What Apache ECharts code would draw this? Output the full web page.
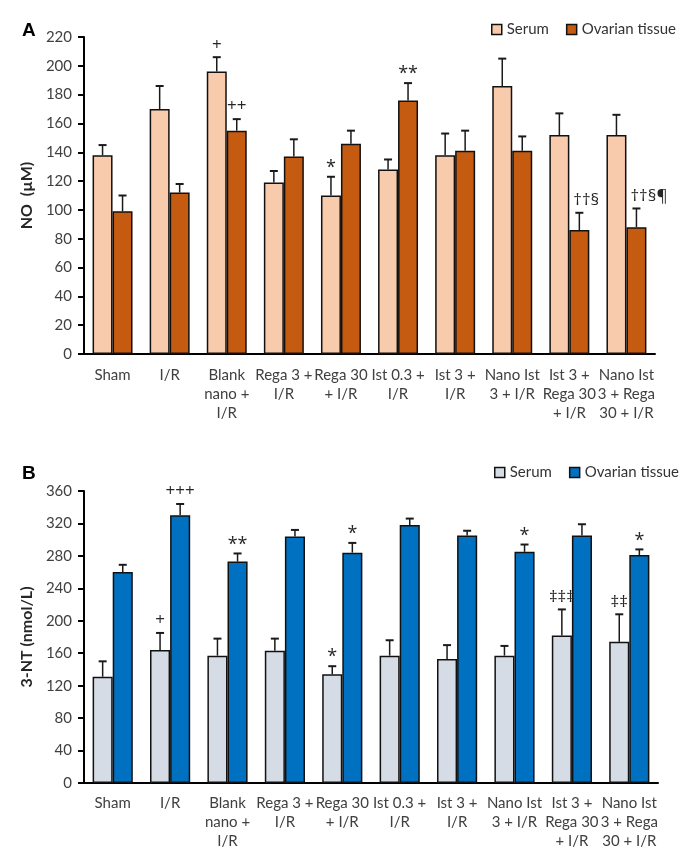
<html lang="en">
<head>
    <meta charset="UTF-8">
    <title>NO and 3-NT</title>
    <script src="https://cdn.jsdelivr.net/npm/echarts@6/dist/echarts.min.js"></script>
</head>
<style>
    html, body { margin: 0; padding: 0; background: #fff; }
    #container { width: 690px; height: 866px; }
</style>
<body>
<div id="container"></div>
<script>
    // categories (x axis, same for both panels)
    var categories = ['Sham', 'I/R', 'Blank\nnano +\nI/R', 'Rega 3 +\nI/R', 'Rega 30\n+ I/R',
        'Ist 0.3 +\nI/R', 'Ist 3 +\nI/R', 'Nano Ist\n3 + I/R', 'Ist 3 +\nRega 30\n+ I/R', 'Nano Ist\n3 + Rega\n30 + I/R'];

    // panel A: NO (µM)
    var noSerum = [138, 170, 196, 119, 110, 128, 138, 186, 152, 152];
    var noSerumErr = [145, 186, 206, 127, 123, 135, 153, 205, 167, 166];
    var noTissue = [99, 112, 155, 137, 146, 176, 141, 141, 86, 88];
    var noTissueErr = [110, 118, 163, 149, 155, 188, 155, 151, 98, 101];
    var noSerumMark = ['', '', '+', '', '*', '', '', '', '', ''];
    var noTissueMark = ['', '', '++', '', '', '**', '', '', '††§', '††§¶'];

    // panel B: 3-NT (nmol/L)
    var ntSerum = [131, 164, 157, 163, 134, 157, 153, 157, 182, 174];
    var ntSerumErr = [150, 185, 178, 178, 144, 176, 170, 169, 214, 208];
    var ntTissue = [260, 330, 273, 304, 284, 318, 305, 285, 305, 281];
    var ntTissueErr = [269, 344, 283, 312, 296, 326, 311, 294, 319, 288];
    var ntSerumMark = ['', '+', '', '', '*', '', '', '', '‡‡‡', '‡‡'];
    var ntTissueMark = ['', '+++', '**', '', '*', '', '', '*', '', '*'];

    var font = 'Lato, "Open Sans", sans-serif';

    var chart = echarts.init(document.getElementById('container'));

    // error bar (upward only) + significance mark
    function errorBars(side, marks, markAlign) {
        return function (params, api) {
            var i = api.value(0);
            var base = api.coord([i, api.value(1)]);
            var top = api.coord([i, api.value(2)]);
            var catW = api.size([1, 0])[0];
            var x = base[0] + side * catW * 0.7 / 4;
            var children = [
                {type: 'line', shape: {x1: x, y1: base[1], x2: x, y2: top[1]},
                    style: {stroke: '#1a1a1a', lineWidth: 1.5}},
                {type: 'line', shape: {x1: x - 4, y1: top[1], x2: x + 4, y2: top[1]},
                    style: {stroke: '#1a1a1a', lineWidth: 2}}
            ];
            var m = marks[i];
            if (m) {
                var left = markAlign && m.length > 2;
                var star = m.charAt(0) === '*';
                children.push({
                    type: 'text',
                    style: {
                        text: m,
                        x: left ? x - 6 : x,
                        y: top[1] - (star ? 0 : 4),
                        align: left ? 'left' : 'center',
                        verticalAlign: 'bottom',
                        font: (star ? '18px ' : '17px ') + '"Open Sans", sans-serif',
                        fill: '#262626'
                    }
                });
            }
            return {type: 'group', children: children};
        };
    }

    function errData(vals, errs) {
        var d = [];
        for (var i = 0; i < vals.length; i++) d.push([i, vals[i], errs[i]]);
        return d;
    }

    function xAxisFor(gridIndex, margin) {
        return {
            type: 'category', gridIndex: gridIndex, data: categories,
            axisLine: {lineStyle: {color: '#000', width: 2}},
            axisTick: {length: 6, lineStyle: {color: '#000', width: 2}},
            axisLabel: {interval: 0, margin: margin, color: '#404040', fontFamily: font, fontSize: 15, lineHeight: 19}
        };
    }

    function yAxisFor(gridIndex, name, max, interval) {
        return {
            type: 'value', gridIndex: gridIndex, min: 0, max: max, interval: interval,
            name: name, nameLocation: 'middle', nameGap: 47,
            nameTextStyle: {fontFamily: font, fontSize: 16, fontWeight: 'bold', color: '#262626'},
            splitLine: {show: false},
            axisLine: {show: true, lineStyle: {color: '#000', width: 2}},
            axisTick: {show: true, length: 6, lineStyle: {color: '#000', width: 2}},
            axisLabel: {margin: 12, color: '#404040', fontFamily: font, fontSize: 15}
        };
    }

    function barStyle(color) {
        return {color: color, borderColor: '#111', borderWidth: 1.5};
    }

    var option = {
        animation: false,
        textStyle: {fontFamily: font},
        grid: [
            {left: 84, top: 37, width: 571, height: 317},
            {left: 84, top: 491, width: 574, height: 292}
        ],
        legend: [
            {
                left: 486, top: 17, width: 200, itemWidth: 10, itemHeight: 10, itemGap: 17, selectedMode: false,
                textStyle: {fontFamily: font, fontSize: 15, color: '#333'},
                data: [
                    {name: 'Serum', icon: 'rect', itemStyle: barStyle('#F8CBAD')},
                    {name: 'Ovarian tissue', icon: 'rect', itemStyle: barStyle('#C55A11')}
                ]
            },
            {
                left: 489, top: 460, width: 200, itemWidth: 10, itemHeight: 10, itemGap: 17, selectedMode: false,
                textStyle: {fontFamily: font, fontSize: 15, color: '#333'},
                data: [
                    {name: 'Serum', icon: 'rect', itemStyle: barStyle('#D6DCE5')},
                    {name: 'Ovarian tissue', icon: 'rect', itemStyle: barStyle('#0070C0')}
                ]
            }
        ],
        xAxis: [xAxisFor(0, 12), xAxisFor(1, 11)],
        yAxis: [yAxisFor(0, 'NO  (µM)', 220, 20), yAxisFor(1, '3-NT (nmol/L)', 360, 40)],
        graphic: [
            {type: 'text', left: 22, top: 21, style: {text: 'A', font: 'bold 19px Arial, "Liberation Sans", sans-serif', fill: '#000'}},
            {type: 'text', left: 22, top: 464, style: {text: 'B', font: 'bold 19px Arial, "Liberation Sans", sans-serif', fill: '#000'}}
        ],
        series: [
            {name: 'Serum', type: 'bar', xAxisIndex: 0, yAxisIndex: 0, data: noSerum,
                barGap: '0%', barCategoryGap: '30%', itemStyle: barStyle('#F8CBAD')},
            {name: 'Ovarian tissue', type: 'bar', xAxisIndex: 0, yAxisIndex: 0, data: noTissue,
                itemStyle: barStyle('#C55A11')},
            {type: 'custom', xAxisIndex: 0, yAxisIndex: 0, z: 5, data: errData(noSerum, noSerumErr),
                renderItem: errorBars(-1, noSerumMark, true)},
            {type: 'custom', xAxisIndex: 0, yAxisIndex: 0, z: 5, data: errData(noTissue, noTissueErr),
                renderItem: errorBars(1, noTissueMark, true)},

            {name: 'Serum', type: 'bar', xAxisIndex: 1, yAxisIndex: 1, data: ntSerum,
                barGap: '0%', barCategoryGap: '30%', itemStyle: barStyle('#D6DCE5')},
            {name: 'Ovarian tissue', type: 'bar', xAxisIndex: 1, yAxisIndex: 1, data: ntTissue,
                itemStyle: barStyle('#0070C0')},
            {type: 'custom', xAxisIndex: 1, yAxisIndex: 1, z: 5, data: errData(ntSerum, ntSerumErr),
                renderItem: errorBars(-1, ntSerumMark, false)},
            {type: 'custom', xAxisIndex: 1, yAxisIndex: 1, z: 5, data: errData(ntTissue, ntTissueErr),
                renderItem: errorBars(1, ntTissueMark, false)}
        ]
    };

    chart.setOption(option);
</script>
</body>
</html>
